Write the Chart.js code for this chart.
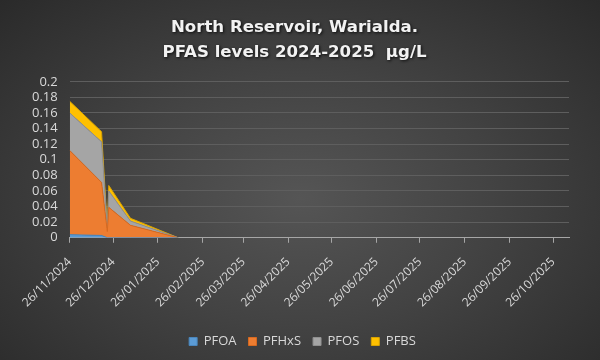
<!DOCTYPE html>
<html>
<head>
<meta charset="utf-8">
<script src="https://cdn.jsdelivr.net/npm/chart.js@4/dist/chart.umd.min.js"></script>
<style>
  html, body { margin: 0; padding: 0; }
  body {
    width: 600px; height: 360px; overflow: hidden;
    background: radial-gradient(ellipse at 50% 55%, #555555 0%, #434343 45%, #2a2a2a 100%);
  }
  #chart { display: block; }
</style>
</head>
<body>
<canvas id="chart" width="600" height="360"></canvas>
<script>
// sample dates and measured values (ug/L)
const sampleDates = ['26/11/2024', '18/12/2024', '22/12/2024', '23/12/2024', '07/01/2025', '09/02/2025'];
const pfoa  = [0.004, 0.003, 0,     0,     0,      0];
const pfhxs = [0.108, 0.068, 0.008, 0.039, 0.016,  0];
const pfos  = [0.048, 0.052, 0.003, 0.021, 0.0055, 0];
const pfbs  = [0.015, 0.013, 0.002, 0.007, 0.0035, 0];

const tickLabels = ['26/11/2024', '26/12/2024', '26/01/2025', '26/02/2025', '26/03/2025', '26/04/2025',
    '26/05/2025', '26/06/2025', '26/07/2025', '26/08/2025', '26/09/2025', '26/10/2025'];
const axisEnd = '06/11/2025';

function toDay(str){
    const p = str.split('/');
    const t = Date.UTC(+p[2], +p[1] - 1, +p[0]);
    return Math.round((t - Date.UTC(2024, 10, 26)) / 86400000);
}

const tickDays = tickLabels.map(toDay);
const xs = sampleDates.map(toDay);

function series(vals){
    return vals.map((v, i) => ({x: xs[i], y: v}));
}

const colors = {
    PFOA:  ['#5b9bd5', '#4a86bd'],
    PFHxS: ['#ed7d31', '#d86a20'],
    PFOS:  ['#a5a5a5', '#8f8f8f'],
    PFBS:  ['#ffc000', '#d9a300']
};

function ds(label, vals, fill){
    return {
        label: label,
        data: series(vals),
        backgroundColor: colors[label][0],
        borderColor: colors[label][1],
        borderWidth: 1,
        pointRadius: 0,
        tension: 0,
        fill: fill
    };
}

// nudge the legend a bit right, like the original
const legendShift = {
    id: 'legendShift',
    afterLayout(chart){
        chart.legend.left += 8;
        chart.legend.right += 8;
    }
};

// dark shadow behind the title text
const titleShadow = {
    id: 'titleShadow',
    beforeDraw(chart){
        const t = chart.titleBlock;
        if(!t || t._wrapped) return;
        const c = chart.ctx;
        const orig = t.draw;
        t._wrapped = true;
        t.draw = function(){
            c.save();
            c.shadowColor = 'rgba(0,0,0,0.8)';
            c.shadowBlur = 3;
            c.shadowOffsetX = 1;
            c.shadowOffsetY = 1;
            orig.apply(this, arguments);
            c.restore();
        };
    }
};

const ctx = document.getElementById('chart').getContext('2d');
new Chart(ctx, {
    type: 'line',
    data: {
        datasets: [
            ds('PFOA', pfoa, 'origin'),
            ds('PFHxS', pfhxs, '-1'),
            ds('PFOS', pfos, '-1'),
            ds('PFBS', pfbs, '-1')
        ]
    },
    plugins: [legendShift, titleShadow],
    options: {
        responsive: false,
        animation: false,
        layout: { padding: { top: 6, right: 31, bottom: 2, left: 20 } },
        plugins: {
            title: {
                display: true,
                text: ['North Reservoir, Warialda.', 'PFAS levels 2024-2025  \u00b5g/L'],
                color: '#f2f2f2',
                font: { family: 'DejaVu Sans', size: 16.6, weight: 'bold', lineHeight: 1.5 },
                padding: { top: 9, bottom: 17 }
            },
            legend: {
                position: 'bottom',
                labels: {
                    color: '#d9d9d9',
                    boxWidth: 8,
                    boxHeight: 8,
                    padding: 12,
                    font: { family: 'Open Sans', size: 13 }
                }
            },
            tooltip: { enabled: false }
        },
        scales: {
            x: {
                type: 'linear',
                min: 0,
                max: toDay(axisEnd),
                afterBuildTicks: function(scale){
                    scale.ticks = tickDays.map(v => ({value: v}));
                },
                afterFit: function(scale){
                    scale.height += 1;
                },
                ticks: {
                    color: '#d9d9d9',
                    minRotation: 45,
                    maxRotation: 45,
                    padding: 12,
                    autoSkip: false,
                    font: { family: 'Open Sans', size: 12 },
                    callback: function(value, index){ return tickLabels[index]; }
                },
                grid: {
                    drawOnChartArea: false,
                    drawTicks: true,
                    tickLength: 5,
                    color: '#a6a6a6'
                },
                border: { display: true, color: '#a6a6a6', width: 1 }
            },
            y: {
                stacked: true,
                min: 0,
                max: 0.2,
                ticks: {
                    stepSize: 0.02,
                    autoSkip: false,
                    color: '#d9d9d9',
                    padding: 12,
                    font: { family: 'Open Sans', size: 13 },
                    callback: function(v){ return String(+v.toFixed(2)); }
                },
                grid: { color: '#5e5e5e', drawTicks: false },
                border: { display: false }
            }
        }
    }
});
</script>
</body>
</html>
